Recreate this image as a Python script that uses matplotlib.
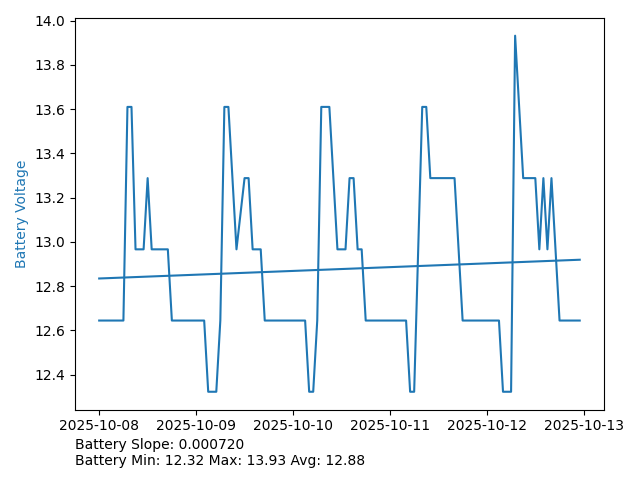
import numpy as np
import pandas as pd
import matplotlib
matplotlib.use("Agg")
import matplotlib.pyplot as plt

# hourly battery readings, one row per day (hour 35 has no reading)
start = pd.Timestamp("2025-10-08 00:00")
day1 = [12.644] * 7 + [13.61] * 2 + [12.966] * 3 + [13.288] + [12.966] * 5 + [12.644] * 6
day2 = ([12.644] * 3 + [12.322] * 3 + [12.644] + [13.61] * 2 + [13.288] + [12.966]
        + [13.288] * 2 + [12.966] * 3 + [12.644] * 7)
day3 = ([12.644] * 4 + [12.322] * 2 + [12.644] + [13.61] * 3 + [13.288] + [12.966] * 3
        + [13.288] * 2 + [12.966] * 2 + [12.644] * 6)
day4 = [12.644] * 5 + [12.322] * 2 + [12.966] + [13.61] * 2 + [13.288] * 7 + [12.966] + [12.644] * 6
day5 = ([12.644] * 4 + [12.322] * 3 + [13.932] + [13.61] + [13.288] * 4
        + [12.966, 13.288, 12.966, 13.288, 12.966] + [12.644] * 6)
voltage = np.array(day1 + day2 + day3 + day4 + day5)
hours = np.array([h for h in range(120) if h != 35])
times = start + pd.to_timedelta(hours, unit="h")

slope_txt = "0.000720"
min_txt, max_txt, avg_txt = "12.32", "13.93", "12.88"

# linear trend over hours
k, b = np.polyfit(hours, voltage, 1)
trend = k * hours + b

fig, ax = plt.subplots(figsize=(6.4, 4.8), dpi=100)
ax.plot(times, voltage, color="tab:blue")
ax.plot(times, trend, color="tab:blue")
ax.set_ylabel("Battery Voltage", color="tab:blue")
ax.text(0, -0.15, "Battery Slope: " + slope_txt + "\n"
        + "Battery Min: " + min_txt + " Max: " + max_txt + " Avg: " + avg_txt,
        transform=ax.transAxes, va="bottom")
fig.tight_layout()
fig.savefig("out.png")
